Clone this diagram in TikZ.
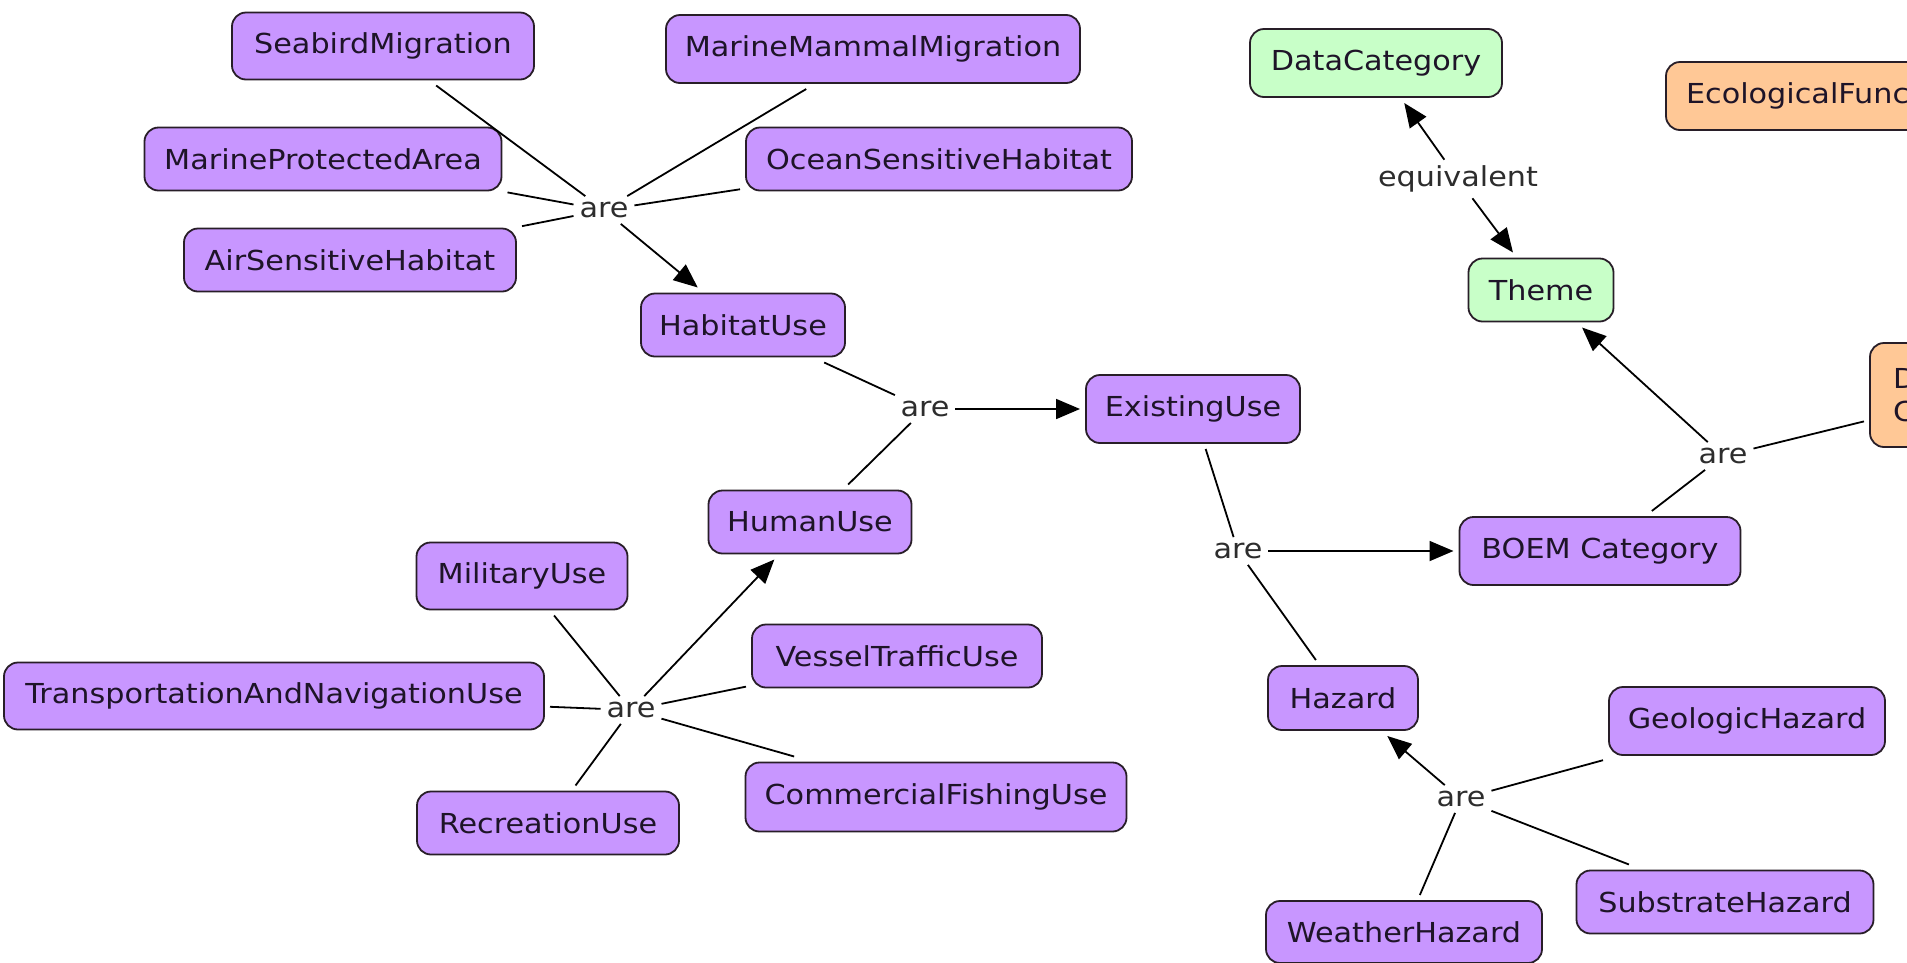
\documentclass[tikz,border=0pt]{standalone}
\usepackage{fontspec}
\setmainfont{DejaVu Sans}[FakeStretch=1.1]
\usetikzlibrary{arrows.meta}

\definecolor{purp}{RGB}{200,150,255}
\definecolor{mint}{RGB}{200,255,200}
\definecolor{peach}{RGB}{255,200,150}
\definecolor{edgecol}{RGB}{40,30,40}
\definecolor{txtcol}{RGB}{30,20,40}
\definecolor{lblcol}{RGB}{45,45,45}

\begin{document}
\begin{tikzpicture}[x=1pt,y=-1pt,
  concept/.style={draw=edgecol, line width=1.8pt, rounded corners=14pt,
    font=\fontsize{27.5}{33}\selectfont, text=txtcol, inner sep=0pt, outer sep=6pt},
  pbox/.style={concept, fill=purp},
  gbox/.style={concept, fill=mint},
  obox/.style={concept, fill=peach},
  lbl/.style={font=\fontsize{27.5}{33}\selectfont, text=lblcol, inner sep=3pt, outer sep=3pt},
  conn/.style={line width=1.8pt, draw=black},
  arr/.style={conn, -{Triangle[length=24pt,width=20pt]}}
]
\useasboundingbox (0,0) rectangle (1907,962);
\clip (0,0) rectangle (1907,962);
\fill[white] (0,0) rectangle (1907,962);

% habitat branch
\node[pbox, minimum width=302pt, minimum height=67pt] (seabird) at (383,46) {SeabirdMigration};
\node[pbox, minimum width=414pt, minimum height=68pt] (mammal) at (873,49) {MarineMammalMigration};
\node[pbox, minimum width=357pt, minimum height=63pt] (mpa) at (323,159) {MarineProtectedArea};
\node[pbox, minimum width=386pt, minimum height=63pt] (osh) at (939,159) {OceanSensitiveHabitat};
\node[pbox, minimum width=332pt, minimum height=63pt] (ash) at (350,260) {AirSensitiveHabitat};
\node[lbl] (are1) at (604,210) {are};
\node[pbox, minimum width=204pt, minimum height=63pt] (habitat) at (743,325) {HabitatUse};

% existing use
\node[lbl] (are2) at (925,409) {are};
\node[pbox, minimum width=214pt, minimum height=68pt] (existing) at (1193,409) {ExistingUse};
\node[pbox, minimum width=203pt, minimum height=63pt] (human) at (810,522) {HumanUse};

% human use branch
\node[pbox, minimum width=211pt, minimum height=67pt] (military) at (522,576) {MilitaryUse};
\node[pbox, minimum width=290pt, minimum height=63pt] (vessel) at (897,656) {VesselTrafficUse};
\node[pbox, minimum width=540pt, minimum height=67pt] (transport) at (274,696) {TransportationAndNavigationUse};
\node[lbl] (are3) at (631,710) {are};
\node[pbox, minimum width=262pt, minimum height=63pt] (recreation) at (548,823) {RecreationUse};
\node[pbox, minimum width=381pt, minimum height=69pt] (fishing) at (936,797) {CommercialFishingUse};

% BOEM category and hazards
\node[lbl] (are4) at (1238,551) {are};
\node[pbox, minimum width=281pt, minimum height=68pt] (boem) at (1600,551) {BOEM Category};
\node[pbox, minimum width=150pt, minimum height=64pt] (hazard) at (1343,698) {Hazard};
\node[pbox, minimum width=276pt, minimum height=68pt] (geologic) at (1747,721) {GeologicHazard};
\node[lbl] (are5) at (1461,799) {are};
\node[pbox, minimum width=297pt, minimum height=63pt] (substrate) at (1725,902) {SubstrateHazard};
\node[pbox, minimum width=276pt, minimum height=62pt] (weather) at (1404,932) {WeatherHazard};

% themes
\node[gbox, minimum width=252pt, minimum height=68pt] (datacat) at (1376,63) {DataCategory};
\node[lbl] (equiv) at (1458,179) {equivalent};
\node[gbox, minimum width=145pt, minimum height=63pt] (theme) at (1541,290) {Theme};
\node[lbl] (are6) at (1723,456) {are};
\node[obox, anchor=west, minimum height=68pt, text width=316pt, align=left, inner xsep=20pt] (eco) at (1660,96) {EcologicalFunc};
\node[obox, minimum width=204pt, minimum height=104pt, text width=158pt, align=left, inner xsep=23pt] (dc) at (1972,395) {D\\C};

% connectors
\foreach \n in {seabird,mammal,mpa,osh,ash} \draw[conn] (\n) -- (are1);
\draw[arr] (are1) -- (habitat);

\draw[conn] (habitat) -- (are2);
\draw[conn] (human) -- (are2);
\draw[arr] (are2) -- (existing);

\foreach \n in {military,vessel,transport,recreation,fishing} \draw[conn] (\n) -- (are3);
\draw[arr] (are3) -- (human);

\draw[conn] (existing) -- (are4);
\draw[conn] (hazard) -- (are4);
\draw[arr] (are4) -- (boem);

\foreach \n in {geologic,substrate,weather} \draw[conn] (\n) -- (are5);
\draw[arr] (are5) -- (hazard);

\draw[arr] (equiv) -- (datacat);
\draw[arr] (equiv) -- (theme);

\draw[conn] (boem) -- (are6);
\draw[conn] (dc) -- (are6);
\draw[arr] (are6) -- (theme);
\end{tikzpicture}
\end{document}
